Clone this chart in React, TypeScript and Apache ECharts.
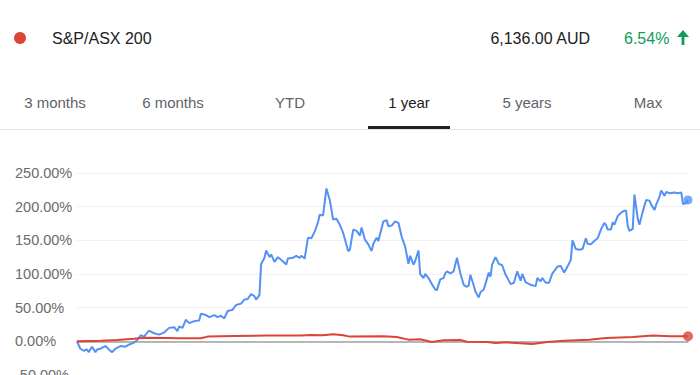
import React, { useEffect, useRef } from "react";
import * as echarts from "echarts";

const indexName = "S&P/ASX 200";
const priceText = "6,136.00 AUD";
const changeText = "6.54%";
const tabs = ["3 months", "6 months", "YTD", "1 year", "5 years", "Max"];
const selectedTab = "1 year";
const yTicks = [-50, 0, 50, 100, 150, 200, 250];

// [day, % change]
const stockSeries: [number, number][] = [
  [0, 0], [2, -11], [4, -14], [6, -12], [7, -16], [9, -8], [11, -16], [12, -12], [14, -11], [17, -7],
  [19, -12], [21, -16], [23, -11], [26, -7], [29, -8], [31, -5], [34, -2], [36, 2], [38, 9], [40, 7],
  [43, 16], [46, 12], [49, 10], [52, 13], [55, 20], [58, 21], [60, 15], [61, 22], [63, 20], [65, 32],
  [67, 27], [70, 30], [73, 31], [74, 41], [77, 39], [79, 36], [82, 39], [84, 36], [86, 38], [88, 34],
  [90, 45], [93, 47], [95, 54], [98, 56], [100, 62], [102, 63], [104, 70], [106, 67], [107, 62], [109, 69],
  [110, 115], [112, 124], [113, 135], [115, 125], [116, 129], [118, 118], [120, 125], [123, 119], [125, 114], [126, 123],
  [129, 124], [131, 127], [133, 124], [134, 127], [136, 123], [138, 154], [140, 153], [142, 163], [144, 177], [145, 188],
  [147, 187], [149, 227], [151, 210], [153, 181], [155, 182], [157, 173], [159, 161], [162, 134], [163, 136], [165, 166],
  [167, 164], [169, 157], [170, 169], [172, 151], [174, 144], [176, 134], [177, 145], [179, 154], [180, 149], [183, 178],
  [185, 180], [186, 171], [188, 172], [190, 178], [192, 176], [194, 155], [196, 141], [198, 115], [199, 127], [201, 114],
  [202, 119], [204, 135], [205, 100], [207, 94], [208, 100], [210, 94], [212, 85], [214, 77], [215, 76], [217, 92],
  [219, 94], [220, 101], [221, 104], [223, 101], [225, 104], [227, 124], [229, 101], [231, 84], [233, 81], [234, 83],
  [235, 99], [237, 83], [238, 74], [240, 65], [241, 73], [243, 77], [246, 102], [247, 96], [248, 114], [250, 125],
  [252, 115], [254, 113], [256, 99], [257, 95], [259, 85], [261, 87], [263, 104], [265, 90], [266, 100], [268, 88],
  [271, 84], [274, 82], [275, 94], [277, 89], [278, 94], [280, 87], [282, 87], [284, 101], [287, 111], [289, 112],
  [291, 102], [293, 111], [295, 121], [296, 150], [298, 137], [300, 136], [302, 137], [304, 153], [305, 145], [307, 144],
  [309, 149], [311, 153], [313, 166], [315, 176], [316, 173], [317, 166], [319, 166], [320, 177], [321, 173], [323, 186],
  [325, 191], [327, 194], [328, 194], [329, 171], [330, 164], [332, 167], [333, 218], [335, 182], [336, 173], [338, 193],
  [340, 210], [342, 209], [343, 203], [345, 195], [346, 203], [348, 215], [349, 224], [351, 216], [352, 222], [354, 220],
  [357, 221], [359, 220], [361, 221], [362, 204], [364, 205], [365, 210],
];

const indexSeries: [number, number][] = [
  [0, 0], [14, 1], [24, 2], [34, 4], [40, 5.5], [54, 5], [60, 4.5], [74, 4.5], [78, 7], [94, 8],
  [114, 8.5], [134, 8.5], [140, 9.5], [147, 9], [153, 10.5], [159, 9], [163, 7], [183, 7.5], [191, 6.5], [198, 2.5],
  [205, 3], [212, -1], [219, 1.5], [229, 2], [233, -0.5], [245, -1], [250, -2.5], [257, -1.5], [272, -4], [281, -1],
  [291, 1], [306, 2.5], [316, 5], [332, 6.5], [344, 8.5], [354, 7.5], [365, 7.5],
];

const BLUE = "#5591f5";
const RED = "#db4437";
const FONT = "'Liberation Sans', Arial, Helvetica, sans-serif";

export default function App() {
  const ref = useRef<HTMLDivElement>(null);
  useEffect(() => {
    if (!ref.current) return;
    const chart = echarts.init(ref.current, null, { renderer: "svg" });
    const tabCenters = [55, 173, 290, 409, 527, 648];
    const selIdx = tabs.indexOf(selectedTab);
    const graphics: any[] = [
      { type: "circle", shape: { cx: 20, cy: 38, r: 6 }, style: { fill: RED } },
      { type: "text", x: 52, y: 38, style: { text: indexName, font: `16px ${FONT}`, fill: "#212121", verticalAlign: "middle" } },
      { type: "text", x: 590, y: 38, style: { text: priceText, font: `16px ${FONT}`, fill: "#212121", align: "right", verticalAlign: "middle" } },
      { type: "text", x: 624, y: 38, style: { text: changeText, font: `16px ${FONT}`, fill: "#0f9d58", verticalAlign: "middle" } },
      { type: "polygon", shape: { points: [[683, 30], [689, 37], [677, 37]] }, style: { fill: "#0f9d58" } },
      { type: "rect", shape: { x: 681.6, y: 35, width: 2.8, height: 10 }, style: { fill: "#0f9d58" } },
      { type: "line", shape: { x1: 0, y1: 129.5, x2: 700, y2: 129.5 }, style: { stroke: "#e3e3e3", lineWidth: 1 } },
      { type: "rect", shape: { x: 368, y: 126, width: 82, height: 3 }, style: { fill: "#202124" } },
    ];
    tabs.forEach((t, i) => {
      graphics.push({
        type: "text",
        x: tabCenters[i],
        y: 102,
        style: {
          text: t,
          font: `15px ${FONT}`,
          fill: i === selIdx ? "#202124" : "#5f6368",
          align: "center",
          verticalAlign: "middle",
        },
      });
    });
    const lastStock = stockSeries[stockSeries.length - 1];
    const lastIndex = indexSeries[indexSeries.length - 1];
    chart.setOption({
      animation: false,
      graphic: graphics,
      grid: { left: 77, right: 12, top: 173, bottom: 25 },
      xAxis: {
        type: "value",
        min: 0,
        max: 365,
        axisLine: { show: true, onZero: true, lineStyle: { color: "#a0a0a0", width: 1.5 } },
        axisTick: { show: false },
        axisLabel: { show: false },
        splitLine: { show: false },
      },
      yAxis: {
        type: "value",
        min: yTicks[0],
        max: yTicks[yTicks.length - 1],
        interval: 50,
        axisLine: { show: false },
        axisTick: { show: false },
        splitLine: { lineStyle: { color: "#f1f1f1", width: 1 } },
        axisLabel: {
          formatter: (v: number) => v.toFixed(2) + "%",
          align: "left",
          margin: 62,
          color: "#6b6b6b",
          fontSize: 14.5,
          fontFamily: FONT,
        },
      },
      series: [
        {
          type: "line",
          data: indexSeries,
          showSymbol: false,
          lineStyle: { color: RED, width: 2 },
          itemStyle: { color: RED },
          z: 3,
        },
        {
          type: "line",
          data: stockSeries,
          showSymbol: false,
          lineStyle: { color: BLUE, width: 2 },
          itemStyle: { color: BLUE },
          z: 2,
        },
        {
          type: "scatter",
          data: [lastStock],
          symbolSize: 9,
          itemStyle: { color: BLUE },
          z: 4,
        },
        {
          type: "scatter",
          data: [lastIndex],
          symbolSize: 10,
          itemStyle: { color: RED },
          z: 4,
        },
      ],
    });
    return () => chart.dispose();
  }, []);
  return (
    <div
      ref={ref}
      style={{ position: "fixed", left: 0, top: 0, width: 700, height: 400, background: "#fff" }}
    />
  );
}
